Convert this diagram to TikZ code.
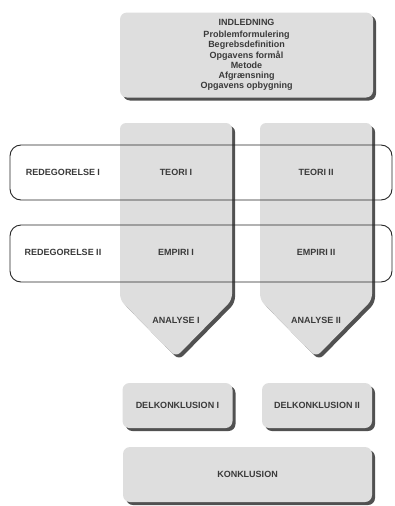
\documentclass[tikz,border=0pt]{standalone}
\usepackage{fontspec}
\setmainfont{Liberation Sans}
\usetikzlibrary{shadows}
\definecolor{boxgray}{HTML}{DEDEDE}
\definecolor{textgray}{HTML}{3A3A3A}
\tikzset{
  shad/.style={drop shadow={shadow xshift=3pt, shadow yshift=-3pt, opacity=0.8, fill=black!85}},
  box/.style={fill=boxgray, rounded corners=7pt, shad, inner sep=0pt,
    font=\bfseries\fontsize{9}{10.2}\selectfont, text=textgray, align=center},
  colshape/.style={fill=boxgray, rounded corners=6pt, shad},
  band/.style={draw=black!85, line width=0.9pt, rounded corners=11pt, inner sep=0pt},
  lbl/.style={font=\bfseries\fontsize{9}{10}\selectfont, text=textgray, inner sep=0pt}
}
\begin{document}
\begin{tikzpicture}[x=1pt,y=-1pt]
\useasboundingbox (0,0) rectangle (394,506);
% introduction
\node[box, minimum width=253pt, minimum height=85pt] (intro) at (246.5,55)
  {INDLEDNING\\[2pt]Problemformulering\\Begrebsdefinition\\Opgavens formål\\Metode\\Afgrænsning\\Opgavens opbygning};
% columns
\path[colshape] (120,300) -- (120,123) -- (232,123) -- (232,300) -- (176,357) -- cycle;
\path[colshape] (260,300) -- (260,123) -- (372,123) -- (372,300) -- (316,357) -- cycle;
% bands
\node[band, minimum width=382pt, minimum height=55pt] (band1) at (201,172.5) {};
\node[band, minimum width=382pt, minimum height=57pt] (band2) at (201,253.5) {};
% labels
\node[lbl] (red1) at (63,172) {REDEGORELSE I};
\node[lbl] (red2) at (63,252) {REDEGORELSE II};
\node[lbl] (teo1) at (176,172) {TEORI I};
\node[lbl] (teo2) at (316,172) {TEORI II};
\node[lbl] (emp1) at (176,252) {EMPIRI I};
\node[lbl] (emp2) at (316,252) {EMPIRI II};
\node[lbl] (ana1) at (176,320) {ANALYSE I};
\node[lbl] (ana2) at (316,320) {ANALYSE II};
% conclusions
\node[box, minimum width=110pt, minimum height=45pt] (del1) at (177.5,405.5) {DELKONKLUSION I};
\node[box, minimum width=110pt, minimum height=45pt] (del2) at (317,405.5) {DELKONKLUSION II};
\node[box, minimum width=249pt, minimum height=55pt] (konk) at (247.5,474.5) {KONKLUSION};
\end{tikzpicture}
\end{document}
